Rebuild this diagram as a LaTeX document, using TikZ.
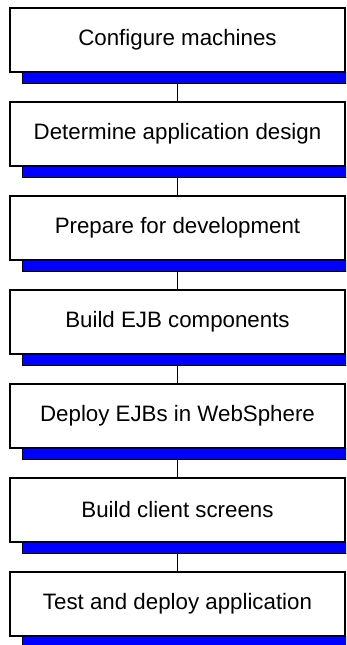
\documentclass[tikz,border=0pt]{standalone}
\usepackage{fontspec}
\setmainfont{Liberation Sans}
\begin{document}
\begin{tikzpicture}[x=1pt,y=1pt,
  stepbox/.style={draw=black, line width=1.3pt, fill=white, rectangle,
    minimum width=335pt, minimum height=64pt, inner sep=0pt,
    font=\fontsize{22.3}{26}\selectfont},
  shadowbar/.style={draw=black, line width=1.3pt, fill=blue, rectangle,
    minimum width=330pt, minimum height=11pt, inner sep=0pt, anchor=north west},
  link/.style={draw=black, line width=1.3pt}]
  \useasboundingbox (0,0) rectangle (346,-645);
  \clip (0,0) rectangle (346,-645);

  % connectors first, so the bars and boxes sit on top of them
  \foreach \i/\txt in {1/Configure machines,
                       2/Determine application design,
                       3/Prepare for development,
                       4/Build EJB components,
                       5/Deploy EJBs in WebSphere,
                       6/Build client screens,
                       7/Test and deploy application}{
    \coordinate (c\i) at (177.5,{-40-94*(\i-1)});
  }
  \foreach \i [evaluate=\i as \j using int(\i+1)] in {1,...,6}{
    \path[link] ([yshift=-32pt]c\i) -- ([yshift=32pt]c\j);
  }

  % step boxes with their blue shadow bars
  \foreach \i/\txt in {1/Configure machines,
                       2/Determine application design,
                       3/Prepare for development,
                       4/Build EJB components,
                       5/Deploy EJBs in WebSphere,
                       6/Build client screens,
                       7/Test and deploy application}{
    \node[shadowbar] (b\i) at ([xshift=-155.5pt,yshift=-32pt]c\i) {};
    \node[stepbox] (s\i) at (c\i) {\txt};
  }
\end{tikzpicture}
\end{document}
